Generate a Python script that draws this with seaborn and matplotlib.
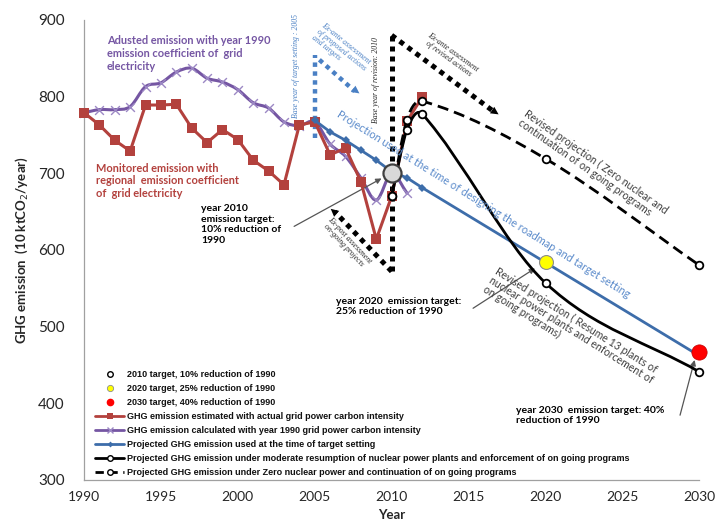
import numpy as np
import pandas as pd
import matplotlib
matplotlib.use("Agg")
import matplotlib.pyplot as plt
from matplotlib.path import Path
from matplotlib.patches import PathPatch
from matplotlib.lines import Line2D
import seaborn as sns

# --- data (10 ktCO2/year) ---
years_obs = list(range(1990, 2013))
monitored = [779, 763, 743, 729, 789, 789, 790, 759, 740, 757, 744, 717,
             703, 685, 763, 767, 724, 733, 689, 614, 670, 768, 800]

years_adj = list(range(1990, 2012))
adjusted = [779, 783, 783, 787, 813, 818, 832, 837, 824, 819, 809, 792,
            785, 767, 762, 767, 738, 722, 694, 665, 700, 674]

years_proj = [2005, 2006, 2007, 2008, 2009, 2010, 2011, 2012, 2030]
projected = [769, 754, 743, 730, 717, 702, 694, 681, 462]

years_rev = [2010, 2011, 2012, 2020, 2030]
rev_nuclear = [670, 757, 777, 557, 441]
rev_zero = [670, 770, 794, 719, 580]

target_years = [2010, 2020, 2030]
target_values = [701, 584, 467]

labels = [
    "2010 target, 10% reduction of 1990",
    "2020 target, 25% reduction of 1990",
    "2030 target, 40% reduction of 1990",
    "GHG emission estimated with actual grid power carbon intensity",
    "GHG emission calculated with year 1990 grid power carbon intensity",
    "Projected GHG emission used at the time of target setting",
    "Projected GHG emission under moderate resumption of nuclear power plants and enforcement of on going programs",
    "Projected GHG emission under Zero nuclear power and continuation of on going programs",
]

RED = "#B3413D"
PURPLE = "#7556A3"
PURPLE_MK = "#9C88C4"
BLUE = "#3D6DAA"
BLUE_TXT = "#5B8BCB"
BLUE_DOT = "#4A80C4"
GREY_TXT = "#3F3F3F"


def smooth_path(xs, ys):
    # Excel-like smoothed line: cubic Bezier segments, monotone in x
    x = np.asarray(xs, float)
    y = np.asarray(ys, float)
    n = len(x)
    m = np.empty(n)
    m[0] = (y[1] - y[0]) / (x[1] - x[0])
    m[-1] = (y[-1] - y[-2]) / (x[-1] - x[-2])
    m[1:-1] = (y[2:] - y[:-2]) / (x[2:] - x[:-2])
    verts = [(x[0], y[0])]
    codes = [Path.MOVETO]
    for i in range(n - 1):
        dx = (x[i + 1] - x[i]) / 3
        verts += [(x[i] + dx, y[i] + m[i] * dx),
                  (x[i + 1] - dx, y[i + 1] - m[i + 1] * dx),
                  (x[i + 1], y[i + 1])]
        codes += [Path.CURVE4] * 3
    return Path(verts, codes)


sns.set_style("white")
plt.rcParams["font.family"] = ["Lato", "DejaVu Sans"]

fig = plt.figure(figsize=(7.18, 5.24), dpi=100)
ax = fig.add_axes([0.117, 0.084, 0.857, 0.878])

# red: monitored emission
sns.lineplot(x=years_obs, y=monitored, ax=ax, color=RED, lw=2.2, marker="s",
             markersize=6.5, markeredgewidth=0, clip_on=False, zorder=4)

# purple: adjusted emission (smoothed)
ax.add_patch(PathPatch(smooth_path(years_adj, adjusted), fill=False,
                       edgecolor=PURPLE, lw=2.2, zorder=3))
sns.scatterplot(x=years_adj, y=adjusted, ax=ax, marker="x", s=40,
                color=PURPLE_MK, linewidth=1.0, zorder=3, clip_on=False)

# blue: projection at time of target setting
sns.lineplot(x=years_proj, y=projected, ax=ax, color=BLUE, lw=2.0, marker="D",
             markersize=4, markeredgewidth=0, zorder=5, clip_on=False)

# black: revised projections (smoothed)
ax.add_patch(PathPatch(smooth_path(years_rev, rev_nuclear), fill=False,
                       edgecolor="black", lw=2.0, zorder=6))
ax.add_patch(PathPatch(smooth_path(years_rev, rev_zero), fill=False,
                       edgecolor="black", lw=2.0, linestyle=(0, (4, 2.2)), zorder=6))
for vals in (rev_nuclear, rev_zero):
    ax.plot(years_rev, vals, ls="none", marker="o", ms=5.5, mfc="white",
            mec="black", mew=1.3, zorder=7, clip_on=False)

# targets
ax.plot(target_years[0], target_values[0], marker="o", ms=13, mfc="#D9D9D9",
        mec="#404040", mew=1.6, zorder=8)
ax.plot(target_years[1], target_values[1], marker="o", ms=10, mfc="#FFFF00",
        mec="#8C8C8C", mew=0.8, zorder=8)
ax.plot(target_years[2], target_values[2], marker="o", ms=11, mfc="#FF0000",
        mec="#C00000", mew=0.5, zorder=8, clip_on=False)

# --- dotted guide lines and arrows ---
dot_k = dict(color="black", lw=3.6, ls=(0, (1, 1)), zorder=2, clip_on=False)
ax.plot([2010, 2010], [572, 880], **dot_k)
ax.plot([2010, 2016.6], [880, 781], **dot_k)
ax.plot([2010, 2006.3], [572, 650], **dot_k)
dot_b = dict(color=BLUE_DOT, lw=3.2, ls=(0, (1, 1)), zorder=2, clip_on=False)
ax.plot([2005, 2005], [746, 854], **dot_b)
ax.plot([2005.3, 2007.6], [848, 807], **dot_b)

head = dict(arrowstyle="-|>", mutation_scale=14, lw=0)
ax.annotate("", xy=(2017.1, 774.8), xytext=(2016.3, 785.5),
            arrowprops=dict(color="black", **head), annotation_clip=False)
ax.annotate("", xy=(2005.9, 656), xytext=(2006.6, 644),
            arrowprops=dict(color="black", **head))
ax.annotate("", xy=(2008.05, 802), xytext=(2007.3, 813),
            arrowprops=dict(color=BLUE_DOT, **head))

# thin pointer arrows to targets
thin = dict(arrowstyle="-|>", mutation_scale=8, lw=0.9, color="#555555")
ax.annotate("", xy=(2009.5, 695), xytext=(2003.5, 629), arrowprops=thin)
ax.annotate("", xy=(2019.47, 578), xytext=(2015.14, 522), arrowprops=thin)
ax.annotate("", xy=(2029.74, 460), xytext=(2028.7, 381), arrowprops=thin,
            annotation_clip=False)

# --- text annotations ---
ax.text(1991.5, 880, "Adusted emission with year 1990\nemission coefficient of  grid\nelectricity",
        color=PURPLE, fontsize=7.9, fontweight="bold", va="top", ha="left", linespacing=1.2)
ax.text(1990.8, 714, "Monitored emission with\nregional  emission coefficient\nof  grid electricity",
        color=RED, fontsize=7.9, fontweight="bold", va="top", ha="left", linespacing=1.2)
ax.text(1997.6, 660, "year 2010\nemission target:\n10% reduction of\n1990",
        color="black", fontsize=7.5, fontweight="bold", va="top", ha="left", linespacing=1.25)
ax.text(2006.35, 539, "year 2020  emission target:\n25% reduction of 1990",
        color="black", fontsize=7.5, fontweight="bold", va="top", ha="left", linespacing=1.2)
ax.text(2018.05, 397, "year 2030  emission target: 40%\nreduction of 1990",
        color="black", fontsize=7.5, fontweight="bold", va="top", ha="left", linespacing=1.2)

ax.text(2016.0, 659, "Projection used at the time of designing the roadmap and target setting",
        color=BLUE_TXT, fontsize=7.8, rotation=-32, rotation_mode="anchor",
        ha="center", va="center", zorder=9)
ax.text(2018.9, 785, "Revised projection ( Zero nuclear and\ncontinuation of on going programs",
        color=GREY_TXT, fontsize=7.6, rotation=-35, rotation_mode="anchor",
        ha="left", va="top", linespacing=1.0)
ax.text(2016.95, 580, "Revised projection ( Resume 13 plants of\nnuclear power plants and enforcement of\non going programs)",
        color=GREY_TXT, fontsize=7.6, rotation=-32, rotation_mode="anchor",
        ha="left", va="top", linespacing=1.0)

serif = ["Liberation Serif", "DejaVu Serif"]
ax.text(2009.0, 822, "Base year of revision: 2010", family=serif, style="italic",
        fontsize=5.6, rotation=90, ha="center", va="center")
ax.text(2003.76, 840, "Base year of target setting : 2005", family=serif, style="italic",
        fontsize=5.6, rotation=90, ha="center", va="center", color=BLUE_DOT, clip_on=False)
ax.text(2013.85, 854, "Ex-ante assessment\nof revised actions", family=serif, style="italic",
        fontsize=5.6, rotation=-36, rotation_mode="anchor", ha="center", va="center",
        linespacing=1.0)
ax.text(2006.74, 861, "Ex-ante assessment\nof proposed actions\nand targets", family=serif,
        style="italic", fontsize=5.6, rotation=-39, rotation_mode="anchor", ha="center",
        va="center", color=BLUE_DOT, linespacing=1.0, multialignment="left")
ax.text(2007.06, 609, "Ex-post assessment\non-going projects", family=serif, style="italic",
        fontsize=5.6, rotation=-47, rotation_mode="anchor", ha="center", va="center",
        linespacing=1.0)

# --- legend ---
handles = [
    Line2D([], [], ls="none", marker="o", ms=4, mfc="white", mec="black", mew=1.0),
    Line2D([], [], ls="none", marker="o", ms=4.5, mfc="#FFFF00", mec="#8C8C8C", mew=0.6),
    Line2D([], [], ls="none", marker="o", ms=4.5, mfc="#FF0000", mec="#FF0000"),
    Line2D([], [], color=RED, lw=2, marker="s", ms=4, mew=0),
    Line2D([], [], color=PURPLE, lw=2, marker="x", ms=4, mec=PURPLE_MK, mew=1),
    Line2D([], [], color=BLUE, lw=2, marker="D", ms=3, mew=0),
    Line2D([], [], color="black", lw=2, marker="o", ms=4, mfc="white", mec="black", mew=1),
    Line2D([], [], color="black", lw=2, ls=(0, (3, 2)), marker="o", ms=4, mfc="white",
           mec="black", mew=1),
]
leg = ax.legend(handles, labels, loc="lower left", bbox_to_anchor=(0.018, 0.006),
                frameon=False, handlelength=3.2, handletextpad=0.35, labelspacing=0.55,
                borderpad=0, borderaxespad=0, numpoints=1,
                prop=dict(family=["Liberation Sans Narrow", "Liberation Sans"],
                          weight="bold", size=6.5))
for t in leg.get_texts():
    t.set_color("#111111")

# --- axes ---
ax.set_xlim(1990, 2030)
ax.set_ylim(300, 900)
ax.set_xticks(range(1990, 2031, 5))
ax.set_yticks(range(300, 901, 100))
ax.set_yticks(range(300, 901, 20), minor=True)
ax.tick_params(axis="both", which="both", direction="in", color="#A0A0A0")
ax.tick_params(axis="y", which="major", length=5, pad=14, labelsize=11)
ax.tick_params(axis="y", which="minor", length=4)
ax.tick_params(axis="x", which="major", length=4, pad=8, labelsize=10)
for side in ("top", "right"):
    ax.spines[side].set_visible(False)
for side in ("left", "bottom"):
    ax.spines[side].set_color("#A0A0A0")
    ax.spines[side].set_linewidth(0.9)
ax.set_xlabel("Year", fontsize=9.5, fontweight="bold", labelpad=4)
ax.set_ylabel("GHG emission  (10 ktCO$_2$/year)", fontsize=9.5, fontweight="bold", labelpad=6)

fig.savefig("out.png", dpi=100)
